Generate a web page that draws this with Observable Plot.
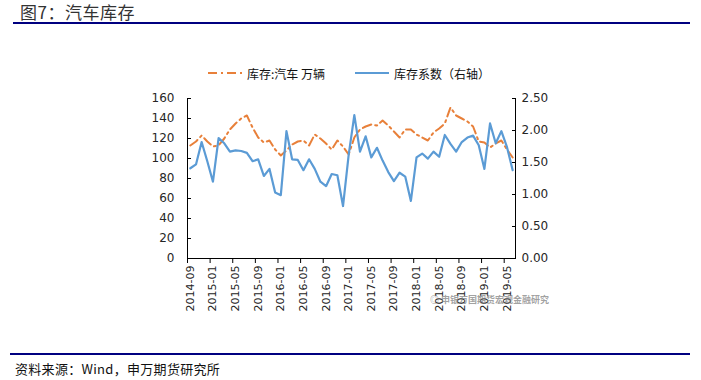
<!DOCTYPE html>
<html><head><meta charset="utf-8">
<script src="https://cdn.jsdelivr.net/npm/d3@7"></script>
<script src="https://cdn.jsdelivr.net/npm/@observablehq/plot@0.6"></script>
<style>
body{margin:0;background:#fff;font-family:"Noto Sans CJK SC","Noto Sans",sans-serif;}
#wrap{position:relative;width:701px;height:380px;overflow:hidden;background:#fff;}
#title{position:absolute;left:20px;top:0px;font-size:17px;line-height:24px;color:#333;letter-spacing:0.5px;}
.rule{position:absolute;height:2px;background:#000080;}
#legend{position:absolute;top:64px;left:0;width:701px;height:18px;font-size:12px;color:#111;}
.lg{position:absolute;top:0;display:flex;align-items:center;height:18px;white-space:nowrap;}
#chart{position:absolute;left:0;top:88px;}
#footer{position:absolute;left:15px;top:358px;font-size:13px;line-height:22px;color:#111;letter-spacing:0.3px;}
#wm{position:absolute;left:430px;top:293px;font-size:9px;font-weight:bold;color:rgba(120,120,120,0.7);white-space:nowrap;}
</style></head><body>
<div id="wrap">
  <div id="title">图7：汽车库存</div>
  <div class="rule" style="left:13px;top:22px;width:677px;"></div>
  <div id="legend"></div>
  <div id="chart"></div>
  <div id="wm">◎ 申银万国期货宏观金融研究</div>
  <div class="rule" style="left:10px;top:353px;width:680px;"></div>
  <div id="footer">资料来源：Wind，申万期货研究所</div>
</div>
<script>
const months = ["2014-09","2014-10","2014-11","2014-12","2015-01","2015-02","2015-03","2015-04","2015-05","2015-06","2015-07","2015-08","2015-09","2015-10","2015-11","2015-12","2016-01","2016-02","2016-03","2016-04","2016-05","2016-06","2016-07","2016-08","2016-09","2016-10","2016-11","2016-12","2017-01","2017-02","2017-03","2017-04","2017-05","2017-06","2017-07","2017-08","2017-09","2017-10","2017-11","2017-12","2018-01","2018-02","2018-03","2018-04","2018-05","2018-06","2018-07","2018-08","2018-09","2018-10","2018-11","2018-12","2019-01","2019-02","2019-03","2019-04","2019-05","2019-06"];
const tickLabels = ["2014-09","2015-01","2015-05","2015-09","2016-01","2016-05","2016-09","2017-01","2017-05","2017-09","2018-01","2018-05","2018-09","2019-01","2019-05"];
const seriesNames = ["库存:汽车 万辆","库存系数（右轴）"];
const inventory = [113,117,123,117,112,113,120,129,135,140,143,131,121,116,118,109,103,108,114,117,118,113,124,120,115,109,118,112,104,121,129,132,134,133,138,133,127,121,129,129,124,121,118,126,130,135,151,143,140,137,132,117,116,111,115,118,109,101];
const coefficient = [1.41,1.47,1.82,1.52,1.20,1.88,1.80,1.67,1.69,1.68,1.65,1.52,1.55,1.29,1.40,1.03,0.99,1.99,1.55,1.54,1.38,1.55,1.40,1.20,1.13,1.32,1.30,0.82,1.62,2.24,1.67,1.91,1.58,1.73,1.53,1.35,1.21,1.34,1.28,0.90,1.58,1.64,1.56,1.67,1.59,1.93,1.79,1.67,1.82,1.89,1.92,1.77,1.40,2.11,1.80,1.99,1.74,1.38];
const leftTicks = [0,20,40,60,80,100,120,140,160];
const rightTicks = [0,0.5,1.0,1.5,2.0,2.5];
const colors = ["#E8803A","#5B9BD5"];
const dashes = ["9,4,2,4", null];

const k = leftTicks[leftTicks.length-1] / rightTicks[rightTicks.length-1];
const n = months.length;
const rows = months.map((m,i)=>({i:i+0.5, m, inv:inventory[i], coef:coefficient[i]*k}));
const tickIdx = tickLabels.map(t=>months.indexOf(t));

const chart = Plot.plot({
  width:701, height:230, marginTop:10, marginBottom:60, marginLeft:187, marginRight:186,
  style:{fontFamily:"DejaVu Sans, sans-serif", fontSize:"12px", color:"#000", background:"transparent", overflow:"visible"},
  x:{domain:[0,n], axis:null, label:null},
  y:{domain:[leftTicks[0], leftTicks[leftTicks.length-1]], axis:null, label:null},
  marks:[
    Plot.axisY({anchor:"left", label:null, ticks:leftTicks, tickSize:-4, tickPadding:17, tickFormat:d=>String(d), fontSize:12, fill:"#262626"}),
    Plot.axisY({anchor:"right", label:null, ticks:rightTicks.map(v=>v*k), tickSize:-4, tickPadding:10, tickFormat:d=>(d/k).toFixed(2), fontSize:12, fill:"#262626"}),
    Plot.axisX({label:null, ticks:tickIdx, tickSize:5, tickFormat:()=>""}),
    Plot.axisX({label:null, ticks:tickIdx.map(i=>i+0.5), tickSize:0, tickPadding:7, tickRotate:-90, tickFormat:d=>months[Math.floor(d)], fontSize:11, fill:"#262626"}),
    Plot.ruleY([leftTicks[0]], {stroke:"#000"}),
    Plot.ruleX([0, n], {stroke:"#000"}),
    Plot.line(rows, {x:"i", y:"inv", stroke:colors[0], strokeWidth:2, strokeDasharray:dashes[0]}),
    Plot.line(rows, {x:"i", y:"coef", stroke:colors[1], strokeWidth:2.2})
  ]
});
document.getElementById("chart").appendChild(chart);

const legendPos = [208, 355];
const legend = document.getElementById("legend");
seriesNames.forEach((name, j) => {
  const d = document.createElement("div");
  d.className = "lg";
  d.style.left = legendPos[j] + "px";
  d.innerHTML = `<svg width="34" height="10" style="margin-right:5px"><line x1="0" y1="5" x2="34" y2="5" stroke="${colors[j]}" stroke-width="2" ${dashes[j] ? `stroke-dasharray="${dashes[j]}"` : ""}/></svg><span>${name}</span>`;
  legend.appendChild(d);
});
</script>
</body></html>
